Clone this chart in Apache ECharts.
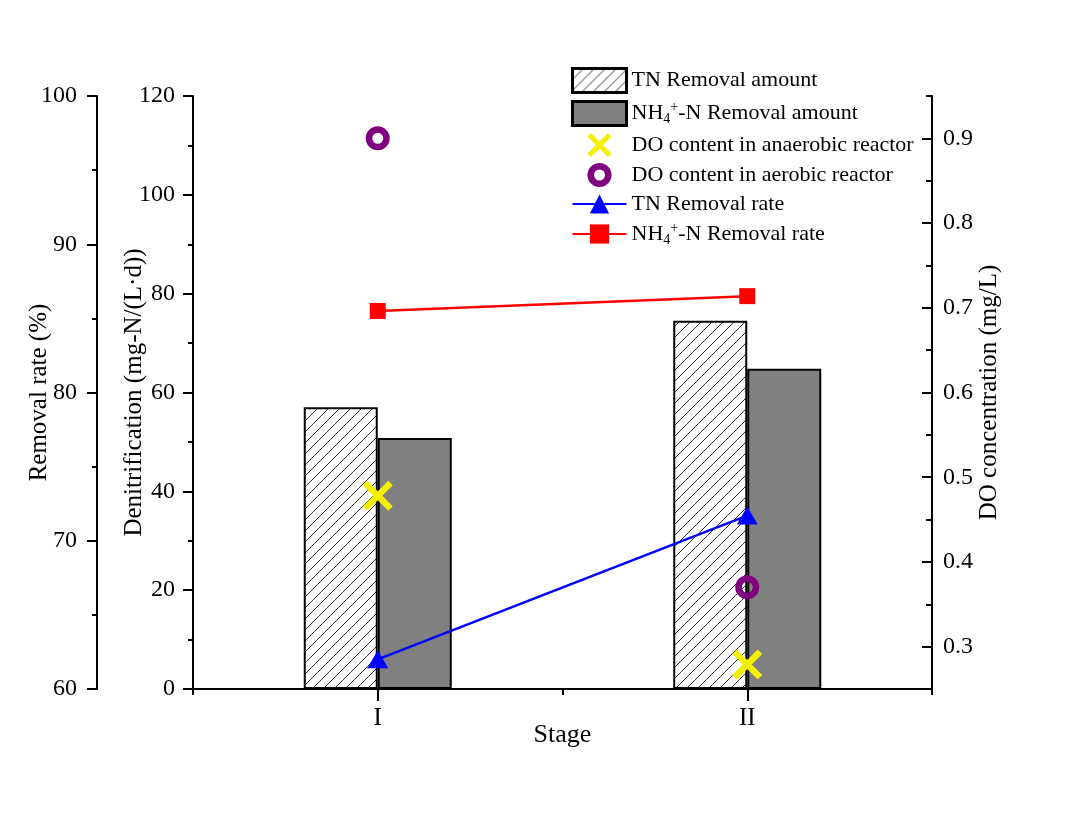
<!DOCTYPE html>
<html>
<head>
<meta charset="utf-8">
<script src="https://cdn.jsdelivr.net/npm/echarts@6/dist/echarts.min.js"></script>
<style>
html,body{margin:0;padding:0;background:#fff;}
#chart{width:1080px;height:826px;}
</style>
</head>
<body>
<div id="chart"></div>
<script>
// ---- data ----
var stages = ['I', 'II'];
var tnAmount = [57.0, 74.5];          // mg-N/(L·d)
var nh4Amount = [50.8, 64.8];         // mg-N/(L·d)
var tnRate = [62.0, 71.7];            // %
var nh4Rate = [85.5, 86.5];           // %
var doAnaerobic = [0.478, 0.279];     // mg/L
var doAerobic = [0.900, 0.370];       // mg/L
var doMajorTicks = [0.3, 0.4, 0.5, 0.6, 0.7, 0.8, 0.9];
var doMinorTicks = [0.35, 0.45, 0.55, 0.65, 0.75, 0.85, 0.95];

var FONT = '"Liberation Serif", "Times New Roman", serif';

// hatch pattern
var pc = document.createElement('canvas');
pc.width = 11; pc.height = 11;
var g = pc.getContext('2d');
g.fillStyle = '#fff'; g.fillRect(0, 0, 11, 11);
g.strokeStyle = '#333'; g.lineWidth = 1;
g.beginPath();
g.moveTo(-1, 12); g.lineTo(12, -1);
g.moveTo(-1, 1); g.lineTo(1, -1);
g.moveTo(10, 12); g.lineTo(12, 10);
g.stroke();
var hatch = { image: pc, repeat: 'repeat' };

var xPath = 'path://M0,3 L3,0 L10,7 L17,0 L20,3 L13,10 L20,17 L17,20 L10,13 L3,20 L0,17 L7,10 Z';
var ringPath = 'path://M12,0 A12,12 0 1,1 11.99,0 Z M12,6.5 A5.5,5.5 0 1,0 12.01,6.5 Z';

function fmtName(n) {
  if (n.indexOf('NH4+') === 0) {
    return '{t|NH}{sub|4}{sup|+}{t|' + n.slice(4) + '}';
  }
  return '{t|' + n + '}';
}

var chart = echarts.init(document.getElementById('chart'));
var axisLine = { show: true, lineStyle: { color: '#000', width: 2 } };
var tickStyle = { color: '#000', width: 2 };
var labelStyle = { color: '#000', fontFamily: FONT, fontSize: 24 };
var nameStyle = { color: '#000', fontFamily: FONT, fontSize: 25 };

chart.setOption({
  backgroundColor: '#fff',
  animation: false,
  grid: { left: 193, right: 148, top: 96, bottom: 137, containLabel: false, outerBoundsMode: 'none' },
  legend: {
    orient: 'vertical',
    left: 566, top: 62,
    itemWidth: 54, itemHeight: 24, itemGap: 6,
    formatter: fmtName,
    textStyle: {
      color: '#000', fontFamily: FONT, fontSize: 22,
      rich: {
        t: { fontFamily: FONT, fontSize: 22, color: '#000', lineHeight: 26 },
        sub: { fontFamily: FONT, fontSize: 14, color: '#000', lineHeight: 14, verticalAlign: 'bottom' },
        sup: { fontFamily: FONT, fontSize: 14, color: '#000', lineHeight: 14, verticalAlign: 'top' }
      }
    },
    data: [
      { name: 'TN Removal amount', icon: 'rect', itemStyle: { borderColor: '#000', borderWidth: 3 } },
      { name: 'NH4+-N Removal amount', icon: 'rect', itemStyle: { borderColor: '#000', borderWidth: 3 } },
      { name: 'DO content in anaerobic reactor' },
      { name: 'DO content in aerobic reactor' },
      { name: 'TN Removal rate' },
      { name: 'NH4+-N Removal rate' }
    ]
  },
  xAxis: [
    {
      type: 'category', data: stages, position: 'bottom',
      name: 'Stage', nameLocation: 'middle', nameGap: 33, nameMoveOverlap: false,
      nameTextStyle: { color: '#000', fontFamily: FONT, fontSize: 26 },
      axisLine: axisLine,
      axisTick: { show: true, alignWithLabel: true, length: 12, lineStyle: tickStyle },
      axisLabel: { color: '#000', fontFamily: FONT, fontSize: 25, margin: 17 },
      splitLine: { show: false }
    },
    {
      type: 'category', data: stages, position: 'bottom',
      axisLine: { show: false },
      axisTick: { show: true, length: 6, lineStyle: tickStyle },
      axisLabel: { show: false },
      splitLine: { show: false }
    }
  ],
  yAxis: [
    {
      type: 'value', position: 'left', offset: 0,
      min: 0, max: 120, interval: 20,
      name: 'Denitrification (mg-N/(L\u00b7d))', nameLocation: 'middle', nameGap: 46, nameMoveOverlap: false,
      nameTextStyle: nameStyle,
      axisLine: axisLine,
      axisTick: { show: true, length: 10, lineStyle: tickStyle },
      minorTick: { show: true, splitNumber: 2, length: 5, lineStyle: tickStyle },
      axisLabel: Object.assign({ margin: 18 }, labelStyle),
      splitLine: { show: false }
    },
    {
      type: 'value', position: 'left', offset: 96,
      min: 60, max: 100, interval: 10,
      name: 'Removal rate (%)', nameLocation: 'middle', nameGap: 45, nameMoveOverlap: false,
      nameTextStyle: nameStyle,
      axisLine: axisLine,
      axisTick: { show: true, length: 10, lineStyle: tickStyle },
      minorTick: { show: true, splitNumber: 2, length: 5, lineStyle: tickStyle },
      axisLabel: Object.assign({ margin: 20 }, labelStyle),
      splitLine: { show: false }
    },
    {
      type: 'value', position: 'right', offset: 0,
      min: 0.25, max: 0.95, interval: 0.05,
      name: 'DO concentration (mg/L)', nameLocation: 'middle', nameGap: 45, nameMoveOverlap: false,
      nameTextStyle: nameStyle,
      axisLine: axisLine,
      axisTick: { show: true, inside: true, length: 10, lineStyle: tickStyle, customValues: doMajorTicks },
      axisLabel: Object.assign({ margin: 11, customValues: doMajorTicks, formatter: function (v) { return v.toFixed(1); } }, labelStyle),
      splitLine: { show: false }
    },
    {
      type: 'value', position: 'right', offset: 0,
      min: 0.25, max: 0.95, interval: 0.05,
      axisLine: { show: false },
      axisTick: { show: true, inside: true, length: 6, lineStyle: tickStyle, customValues: doMinorTicks },
      axisLabel: { show: false, customValues: doMinorTicks },
      splitLine: { show: false }
    }
  ],
  series: [
    {
      name: 'TN Removal amount', type: 'bar', xAxisIndex: 0, yAxisIndex: 0,
      data: tnAmount, barWidth: 74, barGap: '0%',
      itemStyle: { color: hatch, borderColor: '#000', borderWidth: 2 }
    },
    {
      name: 'NH4+-N Removal amount', type: 'bar', xAxisIndex: 0, yAxisIndex: 0,
      data: nh4Amount, barWidth: 74, barGap: '0%',
      itemStyle: { color: '#808080', borderColor: '#000', borderWidth: 2 }
    },
    {
      name: 'DO content in anaerobic reactor', type: 'scatter', xAxisIndex: 0, yAxisIndex: 2,
      data: doAnaerobic, symbol: xPath, symbolSize: 30, z: 5,
      itemStyle: { color: '#F5F000', opacity: 1 }
    },
    {
      name: 'DO content in aerobic reactor', type: 'scatter', xAxisIndex: 0, yAxisIndex: 2,
      data: doAerobic, symbol: ringPath, symbolSize: 24, z: 5,
      itemStyle: { color: '#800080', opacity: 1 }
    },
    {
      name: 'TN Removal rate', type: 'line', xAxisIndex: 0, yAxisIndex: 1,
      data: tnRate, symbol: 'triangle', symbolSize: [21, 18], showAllSymbol: true, z: 4,
      lineStyle: { color: '#0000FF', width: 2.5 },
      itemStyle: { color: '#0000FF' }
    },
    {
      name: 'NH4+-N Removal rate', type: 'line', xAxisIndex: 0, yAxisIndex: 1,
      data: nh4Rate, symbol: 'rect', symbolSize: 16, showAllSymbol: true, z: 4,
      lineStyle: { color: '#FF0000', width: 2.5 },
      itemStyle: { color: '#FF0000' }
    }
  ]
});
</script>
</body>
</html>
